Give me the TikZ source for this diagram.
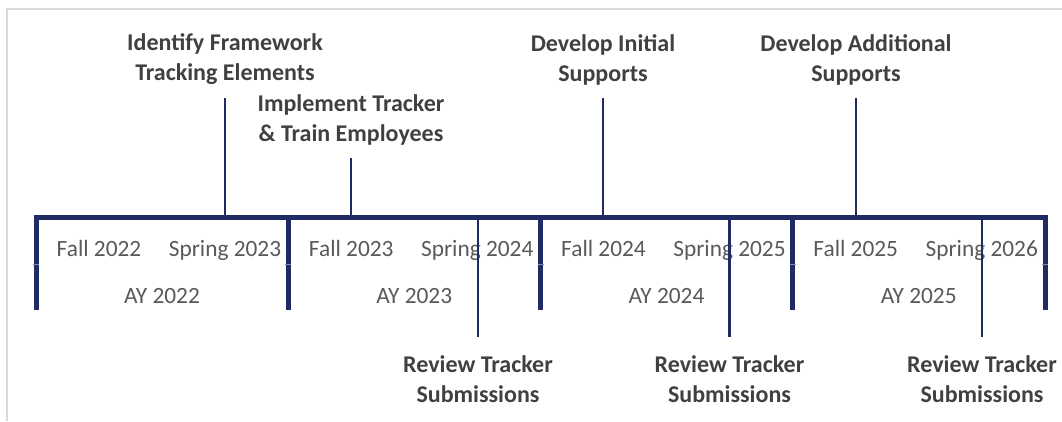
\documentclass[tikz,border=0pt]{standalone}
\usepackage{fontspec}
\setmainfont{Carlito}
\usepackage{xcolor}
\usetikzlibrary{positioning,calc}
\definecolor{navy}{RGB}{32,43,100}
\definecolor{boldgray}{RGB}{64,64,64}
\definecolor{textgray}{RGB}{89,89,89}
\definecolor{framegray}{RGB}{217,217,217}
\tikzset{
    yearbar/.style={draw=navy, line width=3.75pt},
    tick/.style={draw=navy, line width=1.9pt},
    milestone/.style={font=\bfseries\fontsize{18}{22.5}\selectfont, text=boldgray, align=center, inner sep=0pt},
    term/.style={font=\fontsize{17.5}{21}\selectfont, text=textgray, inner sep=0pt, anchor=base}
}

\begin{document}
\begin{tikzpicture}[x=0.75pt,y=-0.75pt]
    \useasboundingbox (0,0) rectangle (1062,421);
    % frame
    \draw[framegray, line width=1.5pt] (7,421) -- (7,8.5) -- (1062,8.5);

    % axis
    \coordinate (axisL) at (36,217);
    \coordinate (axisR) at (1046,217);
    \draw[yearbar] (axisL) -- (axisR);

    % years
    \foreach \i/\yr in {0/2022,1/2023,2/2024,3/2025} {
        \pgfmathsetmacro\xa{36+252.25*\i}
        \pgfmathtruncatemacro\yb{\yr+1}
        \node[term] (fall\i) at (\xa+63,256) {Fall \yr};
        \node[term] (spring\i) at (\xa+189,256) {Spring \yb};
        \node[term] (ay\i) at (\xa+126,303) {AY \yr};
    }
    \foreach \i in {0,...,4} {
        \coordinate (div\i) at (36+252.25*\i,215);
        \draw[yearbar] (div\i) -- ++(0,95);
        \draw[navy!55, line width=0.75pt] ($(div\i)+(-3,49)$) -- ++(6,0);
    }

    % milestones above
    \node[milestone] (identify) at (225,59.5) {Identify Framework\\Tracking Elements};
    \node[milestone] (implement) at (351,119.5) {Implement Tracker\\\& Train Employees};
    \node[milestone] (initial) at (603,59.5) {Develop Initial\\Supports};
    \node[milestone] (additional) at (856,59.5) {Develop Additional\\Supports};
    \coordinate (identify-top) at (225,98);
    \coordinate (implement-top) at (351,158);
    \coordinate (initial-top) at (603,98);
    \coordinate (additional-top) at (856,98);
    \foreach \m in {identify,implement,initial,additional}
        \draw[tick] (\m-top) -- (\m-top |- axisL);

    % milestones below
    \foreach \j/\x in {1/478,2/729.5,3/982} {
        \node[milestone] (review\j) at (\x,379.5) {Review Tracker\\Submissions};
        \coordinate (review\j-end) at (\x,337);
        \draw[tick] (review\j-end |- axisL) -- (review\j-end);
    }
\end{tikzpicture}
\end{document}
